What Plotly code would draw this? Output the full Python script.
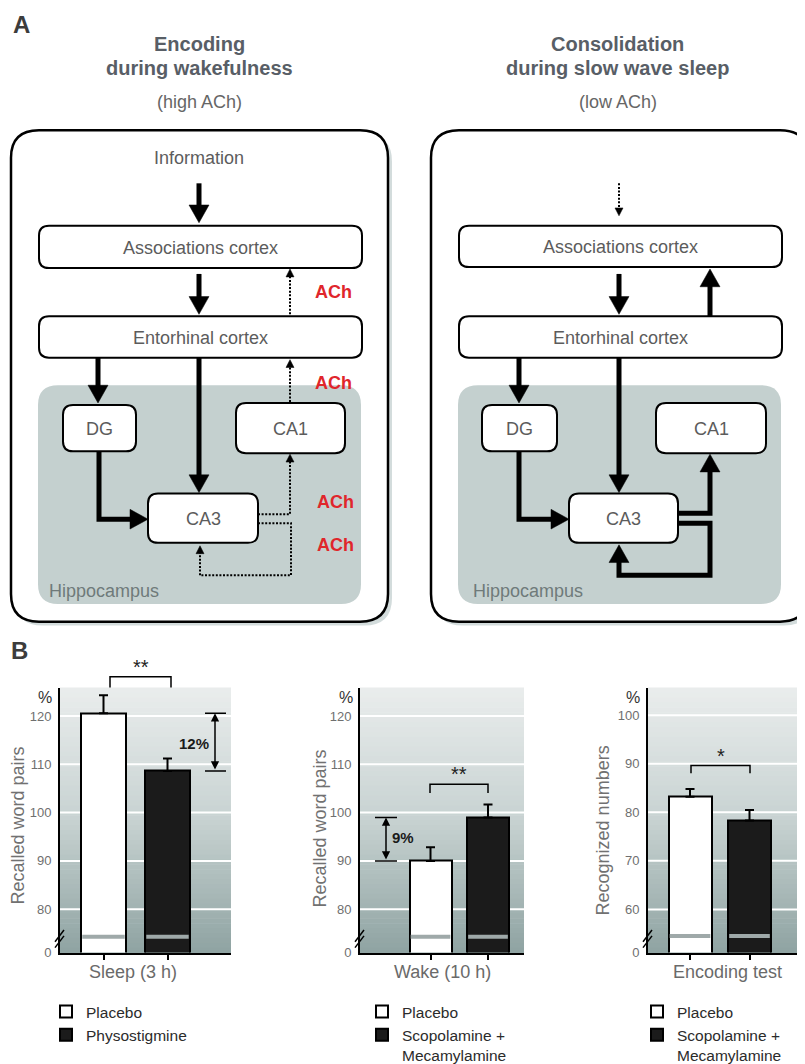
import plotly.graph_objects as go

W, H = 805, 1064


def X(px):
    return px / W


def Y(py):
    return 1 - py / H


# ---------------- data (panel B) ----------------
conditions = ["Sleep (3 h)", "Wake (10 h)", "Encoding test"]
y_titles = ["Recalled word pairs", "Recalled word pairs", "Recognized numbers"]
placebo_mean = [120.6, 90.0, 83.2]
placebo_sem = [3.7, 2.8, 1.6]
drug_mean = [108.6, 99.0, 78.3]
drug_sem = [2.6, 2.7, 2.2]
drug_names = ["Physostigmine", "Scopolamine +<br>Mecamylamine", "Scopolamine +<br>Mecamylamine"]
sig_labels = ["**", "**", "*"]
diff_labels = ["12%", "9%", None]
tick_values = [[80, 90, 100, 110, 120], [80, 90, 100, 110, 120], [60, 70, 80, 90, 100]]

# ---------------- layout geometry (pixels) ----------------
PLOT_TOP, PLOT_BOT = 690, 959
plot_px = [(52, 223), (352, 516), (640, 805)]
bar_centers_px = [(95.5, 159.5), (422.5, 480.0), (682.0, 741.5)]
bar_width_px = [45, 42, 43]
axis_bottom = [71.0, 71.0, 51.1]
axis_top = [125.9, 125.9, 105.7]
break_level = [74.3, 74.3, 54.5]

shapes = []
annotations = []


def text(x, y, s, size, color="#5a5a5a", bold=False, xanchor="center", angle=0):
    annotations.append(dict(
        x=X(x), y=Y(y), xref="paper", yref="paper", text=("<b>%s</b>" % s) if bold else s,
        showarrow=False, xanchor=xanchor, yanchor="middle", textangle=angle,
        font=dict(size=size, color=color, family="Liberation Sans, Arial, sans-serif")))


def rrect(x0, y0, x1, y1, r, fill, lw=2, lc="black", layer="above"):
    p = (f"M{X(x0 + r)},{Y(y0)} L{X(x1 - r)},{Y(y0)} Q{X(x1)},{Y(y0)} {X(x1)},{Y(y0 + r)} "
         f"L{X(x1)},{Y(y1 - r)} Q{X(x1)},{Y(y1)} {X(x1 - r)},{Y(y1)} "
         f"L{X(x0 + r)},{Y(y1)} Q{X(x0)},{Y(y1)} {X(x0)},{Y(y1 - r)} "
         f"L{X(x0)},{Y(y0 + r)} Q{X(x0)},{Y(y0)} {X(x0 + r)},{Y(y0)} Z")
    shapes.append(dict(type="path", xref="paper", yref="paper", path=p, fillcolor=fill,
                       line=dict(color=lc, width=lw), layer=layer))


def polyline(pts, lw, dash="solid", color="black"):
    p = "M" + " L".join(f"{X(a)},{Y(b)}" for a, b in pts)
    shapes.append(dict(type="path", xref="paper", yref="paper", path=p,
                       line=dict(color=color, width=lw, dash=dash)))


def arrow(pts, lw=5, L=18, hw=10, dash="solid"):
    (xa, ya), (xb, yb) = pts[-2], pts[-1]
    dx, dy = xb - xa, yb - ya
    n = (dx * dx + dy * dy) ** 0.5
    ux, uy = dx / n, dy / n
    base = (xb - ux * (L - 1), yb - uy * (L - 1))
    polyline(pts[:-1] + [base], lw, dash)
    bx, by = xb - ux * L, yb - uy * L
    px_, py_ = -uy, ux
    tri = [(xb, yb), (bx + px_ * hw, by + py_ * hw), (bx - px_ * hw, by - py_ * hw)]
    p = "M" + " L".join(f"{X(a)},{Y(b)}" for a, b in tri) + " Z"
    shapes.append(dict(type="path", xref="paper", yref="paper", path=p,
                       fillcolor="black", line=dict(color="black", width=0.5)))


def dotted(pts):
    arrow(pts, lw=2, L=8, hw=4, dash="2px,1.6px")


# ---------------- panel A ----------------
TITLE_C = "#585e66"
NODE_C = "#5c5c5c"
HIPPO_FILL = "#c4d0cf"
ACH_C = "#e0262b"

text(13, 17, "A", 24, "#3c3c3c", bold=True)
text(191, 37, "Encoding", 20, TITLE_C, bold=True)
text(191, 61, "during wakefulness", 20, TITLE_C, bold=True)
text(191, 95, "(high ACh)", 18, "#666666")
text(609, 37, "Consolidation", 20, TITLE_C, bold=True)
text(609, 61, "during slow wave sleep", 20, TITLE_C, bold=True)
text(610, 95, "(low ACh)", 18, "#666666")

for off in (0, 420):
    rrect(3 + off + 4, 124 + 4, 380 + off + 4, 623 + 4, 28, "#d3dcdc", lw=0, lc="rgba(0,0,0,0)")
    rrect(3 + off, 124, 380 + off, 623, 28, "white", lw=2.5)
    rrect(30 + off, 383, 353 + off, 605, 20, HIPPO_FILL, lw=0, lc="rgba(0,0,0,0)")

# left boxes
for (x0, y0, x1, y1, lab) in [(31, 221, 354, 264, "Associations cortex"),
                              (31, 313, 354, 355, "Entorhinal cortex"),
                              (55, 403, 128, 450, "DG"), (228, 401, 337, 452, "CA1"),
                              (140, 493, 250, 543, "CA3")]:
    rrect(x0, y0, x1, y1, 10, "white", lw=2)
    text((x0 + x1) / 2, (y0 + y1) / 2 + 1, lab, 18, NODE_C)
# right boxes
for (x0, y0, x1, y1, lab) in [(451, 221, 774, 263, "Associations cortex"),
                              (451, 313, 774, 355, "Entorhinal cortex"),
                              (474, 403, 549, 450, "DG"), (648, 401, 758, 452, "CA1"),
                              (561, 493, 670, 543, "CA3")]:
    rrect(x0, y0, x1, y1, 10, "white", lw=2)
    text((x0 + x1) / 2, (y0 + y1) / 2 + 1, lab, 18, NODE_C)

text(191, 152, "Information", 18, NODE_C)
text(39, 592, "Hippocampus", 18, "#6f7a7a", xanchor="left")
text(463, 592, "Hippocampus", 18, "#6f7a7a", xanchor="left")

# left arrows
arrow([(191, 178), (191, 218)])
arrow([(191, 270), (191, 311)])
arrow([(90, 355), (90, 401)])
arrow([(191, 355), (191, 492)])
arrow([(91, 450), (91, 519), (140, 519)])
dotted([(282, 311), (282, 265)])
dotted([(282, 400), (282, 357)])
dotted([(250, 514), (282, 514), (282, 453)])
dotted([(250, 523), (283, 523), (283, 576), (192, 576), (192, 546)])
for (ax_, ay_) in [(325, 288), (325, 381), (327, 502), (327, 545)]:
    text(ax_, ay_, "ACh", 18, ACH_C, bold=True)

# right arrows
dotted([(611, 178), (611, 211)])
arrow([(611, 270), (611, 311)])
arrow([(702, 313), (702, 265)])
arrow([(511, 355), (511, 401)])
arrow([(611, 355), (611, 492)])
arrow([(511, 450), (511, 519), (561, 519)])
arrow([(670, 513), (702, 513), (702, 453)])
arrow([(670, 523), (702, 523), (702, 576), (611, 576), (611, 545)])

# ---------------- panel B ----------------
text(11, 652, "B", 24, "#3c3c3c", bold=True)


def grad_color(t):
    stops = [(0.0, (234, 237, 237)), (0.5, (199, 210, 209)), (1.0, (143, 163, 162))]
    for (t0, c0), (t1, c1) in zip(stops[:-1], stops[1:]):
        if t <= t1:
            f = (t - t0) / (t1 - t0)
            return "rgb(%d,%d,%d)" % tuple(round(c0[k] + (c1[k] - c0[k]) * f) for k in range(3))
    return "rgb(%d,%d,%d)" % stops[-1][1]


fig = go.Figure()
layout_axes = {}
NSTRIP = 54
for i in range(3):
    xs = "" if i == 0 else str(i + 1)
    xa, ya = "x" + xs, "y" + xs
    lg = "legend" + xs
    px0, px1 = plot_px[i]
    c0, c1 = bar_centers_px[i]
    unit = c1 - c0
    xr = [(px0 - c0) / unit, (px1 - c0) / unit]
    bw = bar_width_px[i] / unit

    # gradient background
    step = (PLOT_BOT - PLOT_TOP) / NSTRIP
    for k in range(NSTRIP):
        y0 = PLOT_TOP + k * step
        shapes.append(dict(type="rect", xref="paper", yref="paper", x0=X(px0), x1=X(px1),
                           y0=Y(y0 + step + 0.6), y1=Y(y0), fillcolor=grad_color((k + 0.5) / NSTRIP),
                           line=dict(width=0), layer="below"))
    # white gridlines
    for v in tick_values[i]:
        shapes.append(dict(type="line", xref=xa, yref=ya, x0=xr[0], x1=xr[1], y0=v, y1=v,
                           line=dict(color="white", width=2), layer="below"))

    fig.add_trace(go.Bar(
        x=[0], y=[placebo_mean[i]], width=bw, name="Placebo", xaxis=xa, yaxis=ya, legend=lg,
        marker=dict(color="white", line=dict(color="black", width=2)),
        error_y=dict(type="data", symmetric=False, array=[placebo_sem[i]], arrayminus=[0],
                     color="black", thickness=2, width=4.5)))
    fig.add_trace(go.Bar(
        x=[1], y=[drug_mean[i]], width=bw, name=drug_names[i], xaxis=xa, yaxis=ya, legend=lg,
        marker=dict(color="#1b1b1b", line=dict(color="black", width=2)),
        error_y=dict(type="data", symmetric=False, array=[drug_sem[i]], arrayminus=[0],
                     color="black", thickness=2, width=4.5)))

    # axis break line across the bars
    for xc in (0, 1):
        shapes.append(dict(type="line", xref=xa, yref=ya, x0=xc - bw / 2 + 0.02, x1=xc + bw / 2 - 0.02,
                           y0=break_level[i], y1=break_level[i], line=dict(color="#9fa9a9", width=4)))
    # "//" marks on the y axis
    for dy in (0, 6):
        polyline([(px0 - 5, 948 + dy), (px0 + 4, 936 + dy)], 1.5)

    layout_axes["xaxis" + xs] = dict(
        domain=[X(px0), X(px1)], range=xr, anchor=ya, tickvals=[0, 1], ticktext=["", ""],
        ticks="outside", ticklen=5, tickwidth=2, tickcolor="black", showgrid=False,
        zeroline=False, showline=True, linecolor="black", linewidth=2, fixedrange=True)
    layout_axes["yaxis" + xs] = dict(
        domain=[Y(PLOT_BOT), Y(PLOT_TOP)], range=[axis_bottom[i], axis_top[i]], anchor=xa,
        tickvals=[axis_bottom[i]] + tick_values[i],
        ticktext=["0"] + [str(v) for v in tick_values[i]],
        showgrid=False, zeroline=False, showline=True, linecolor="black", linewidth=2,
        ticks="", ticklabelstandoff=4, fixedrange=True,
        tickfont=dict(size=13, color="#6f6f6f", family="Liberation Sans, Arial, sans-serif"))

# y titles, "%" and category labels
for (x_, y_), t in zip([(10, 830), (312, 833), (595, 835)], y_titles):
    text(x_, y_, t, 18, "#717171", angle=-90)
for x_ in (37, 338, 625):
    text(x_, 700, "%", 16, "#333333")
for (x_, t) in zip((125, 434, 719), conditions):
    text(x_, 979, t, 18, "#6a6a6a")

# significance brackets
for (xl, xr_, ytop, ybot, ytxt), s in zip([(102, 163, 679, 690, 669), (422, 480, 788, 797, 778),
                                            (683, 742, 769, 777, 759)], sig_labels):
    polyline([(xl, ybot), (xl, ytop), (xr_, ytop), (xr_, ybot)], 1.5)
    text((xl + xr_) / 2, ytxt, s, 20, "#222222")

# difference arrows (between the group means)
diff_specs = [(0, 207, 197, 218, 186, 747), (1, 378, 367, 389, 395, 842)]
for (i, xmid, xcl, xcr, tx, ty) in diff_specs:
    xs = "" if i == 0 else str(i + 1)
    xa, ya = "x" + xs, "y" + xs
    c0, c1 = bar_centers_px[i]
    unit = c1 - c0
    xd = (xmid - c0) / unit
    hi, lo = max(placebo_mean[i], drug_mean[i]), min(placebo_mean[i], drug_mean[i])
    for v in (hi, lo):
        shapes.append(dict(type="line", xref=xa, yref=ya, x0=(xcl - c0) / unit, x1=(xcr - c0) / unit,
                           y0=v, y1=v, line=dict(color="black", width=1.5)))
    annotations.append(dict(x=xd, y=hi, xref=xa, yref=ya, ax=xd, ay=lo, axref=xa, ayref=ya,
                            text="", showarrow=True, arrowhead=2, arrowside="end+start",
                            arrowsize=1.1, arrowwidth=1.5, arrowcolor="black",
                            standoff=0, startstandoff=0))
    text(tx, ty, diff_labels[i], 15, "#1a1a1a", bold=True)

legend_common = dict(bgcolor="rgba(0,0,0,0)", xanchor="left", yanchor="top", valign="top",
                     tracegroupgap=0, traceorder="normal",
                     font=dict(size=15.5, color="#2b2b2b", family="Liberation Sans, Arial, sans-serif"))

fig.update_layout(
    width=W, height=H, margin=dict(l=0, r=0, t=0, b=0),
    paper_bgcolor="white", plot_bgcolor="rgba(0,0,0,0)",
    barmode="overlay", bargap=0,
    font=dict(family="Liberation Sans, Arial, sans-serif"),
    shapes=shapes, annotations=annotations,
    legend=dict(x=X(38), y=Y(1002), **legend_common),
    legend2=dict(x=X(354), y=Y(1002), **legend_common),
    legend3=dict(x=X(629), y=Y(1002), **legend_common),
    **layout_axes,
)

fig.write_html("out.html")
